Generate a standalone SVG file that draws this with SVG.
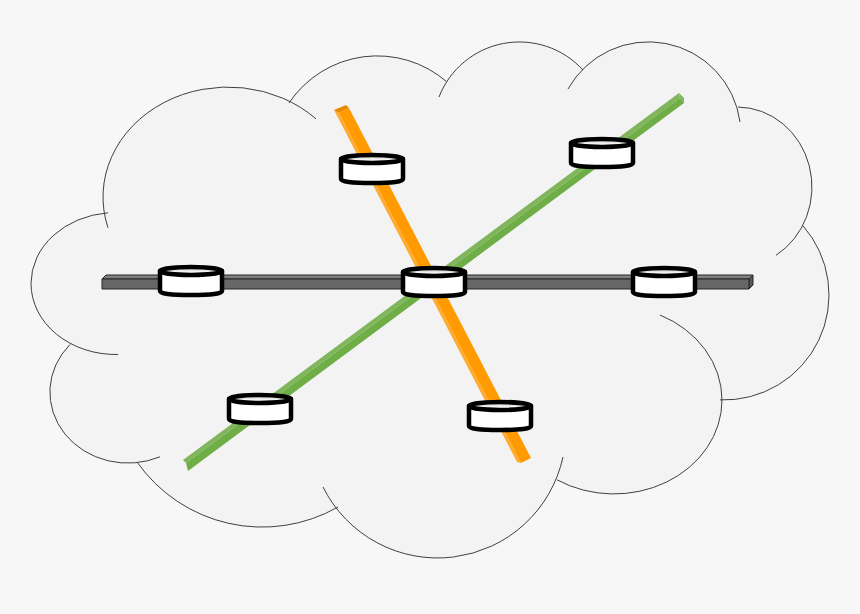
<svg xmlns="http://www.w3.org/2000/svg" width="860" height="614" viewBox="0 0 860 614">
<style>
.arc{fill:none;stroke:#404040;stroke-width:1}
.body{fill:#fff;stroke:#000;stroke-width:4.5;stroke-linejoin:round}
.lid{fill:url(#lidg);stroke:#000;stroke-width:4.5}
</style>
<defs>
<linearGradient id="lidg" x1="0" y1="0" x2="0" y2="1"><stop offset="0.3" stop-color="#d8d8d8"/><stop offset="0.7" stop-color="#fff"/></linearGradient>
<g id="cyl">
<path class="body" d="M-31 -10V10Q-31 14 0 14Q31 14 31 10V-10Z"/>
<ellipse class="lid" cx="0" cy="-10" rx="31" ry="4"/>
</g>
</defs>
<rect width="860" height="614" fill="#f7f7f7"/>
<g id="cloud">
<g fill="#f3f3f3">
<ellipse cx="116" cy="283.5" rx="85" ry="71"/>
<ellipse cx="128" cy="392" rx="78" ry="71"/>
<circle cx="262.3" cy="373.9" r="153"/>
<circle cx="437.7" cy="429.8" r="128.2"/>
<ellipse cx="614" cy="400" rx="108" ry="94"/>
<circle cx="724" cy="295" r="105"/>
<ellipse cx="737" cy="187" rx="75" ry="80"/>
<circle cx="648.4" cy="134.3" r="92.3"/>
<circle cx="519.4" cy="128.2" r="86.2"/>
<circle cx="377.2" cy="162.2" r="106.2"/>
<ellipse cx="228" cy="197" rx="125" ry="110"/>
<path d="M228 197L377 162L519 128L648 134L737 187L724 295L614 400L438 430L262 374L128 392L116 283Z"/>
</g>
<path class="arc" d="M108 212.8A85 71 0 0 0 31 283.5A85 71 0 0 0 118 354.5"/>
<path class="arc" d="M70 344.5A78 71 0 0 0 160 456.8"/>
<path class="arc" d="M137 462A153 153 0 0 0 338 507"/>
<path class="arc" d="M323 487A128.2 128.2 0 0 0 563 457"/>
<path class="arc" d="M557 479.8A108 94 0 0 0 722 400A108 94 0 0 0 660 315"/>
<path class="arc" d="M720 399.9A105 105 0 0 0 803 225.8"/>
<path class="arc" d="M776 255.3A75 80 0 0 0 738 107"/>
<path class="arc" d="M740 122A92.3 92.3 0 0 0 568 89"/>
<path class="arc" d="M583 70A86.2 86.2 0 0 0 439 97"/>
<path class="arc" d="M447 82A106.2 106.2 0 0 0 289 103"/>
<path class="arc" d="M316 118.9A125 110 0 0 0 108 227.8"/>
</g>
<g id="connectors">
<g id="bar-grey" stroke="#262626" stroke-width="1" stroke-linejoin="round">
<path fill="#808080" d="M102 279L106 275H753L749 279Z"/>
<path fill="#595959" d="M749 279L753 275V285L749 289Z"/>
<rect x="102" y="279" width="647" height="10" fill="#666"/>
</g>
<g id="bar-orange">
<path fill="#ffac2e" d="M334 110L339 113L521 463L517 462Z"/>
<path fill="#e68a00" d="M334 110L346 105L349 108L339 113Z"/>
<path fill="#ff9a00" d="M339 113L349 108L531 458L521 463Z"/>
</g>
<g id="bar-green">
<path fill="#7fb65c" d="M183 460L679 93L680 98L186 463Z"/>
<path fill="#6fad47" d="M186 463L680 98L684 103L188 471Z"/>
<path fill="#7fb65c" d="M679 93L684 98L684 103L680 98Z"/>
</g>
</g>
<g id="node-1"><use href="#cyl" x="372" y="169"/></g>
<g id="node-2"><use href="#cyl" x="602" y="153"/></g>
<g id="node-3"><use href="#cyl" x="191" y="281"/></g>
<g id="node-4"><use href="#cyl" x="434" y="282"/></g>
<g id="node-5"><use href="#cyl" x="664" y="282"/></g>
<g id="node-6"><use href="#cyl" x="260" y="409"/></g>
<g id="node-7"><use href="#cyl" x="500" y="416"/></g>
</svg>
